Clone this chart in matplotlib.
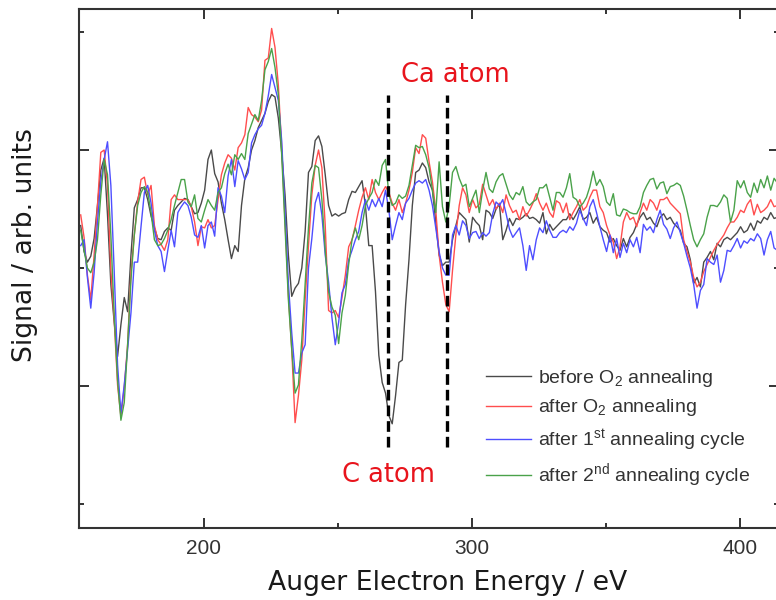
import numpy as np
import matplotlib
matplotlib.use("Agg")
import matplotlib.pyplot as plt
from matplotlib.ticker import MultipleLocator, FixedLocator, NullFormatter
from matplotlib.font_manager import FontProperties

# Auger electron energy grid (eV)
energy = np.arange(154.0, 414.01, 1.25)

# dN/dE signal, arbitrary units
before_o2 = [
    0.36, 0.14, 0.05, 0.10, 0.25, 0.53, 0.83, 0.93, 0.45, -0.14,
    -0.46, -0.75, -0.48, -0.25, -0.37, 0.11, 0.51, 0.58, 0.68, 0.68,
    0.58, 0.44, 0.34, 0.25, 0.24, 0.31, 0.34, 0.32, 0.49, 0.53,
    0.56, 0.59, 0.58, 0.52, 0.46, 0.47, 0.55, 0.66, 0.92, 1.00,
    0.80, 0.73, 0.55, 0.41, 0.24, 0.08, 0.19, 0.14, 0.53, 0.76,
    0.85, 1.00, 1.08, 1.19, 1.25, 1.31, 1.41, 1.47, 1.45, 1.27,
    0.98, 0.62, 0.11, -0.24, -0.17, -0.13, 0.00, 0.31, 0.81, 0.86,
    1.08, 1.12, 1.03, 0.79, 0.53, 0.44, 0.46, 0.44, 0.46, 0.47,
    0.58, 0.65, 0.64, 0.69, 0.74, 0.53, 0.19, 0.19, -0.20, -0.74,
    -0.97, -1.06, -1.25, -1.32, -1.08, -0.80, -0.78, -0.31, 0.07, 0.53,
    0.81, 0.83, 0.89, 0.85, 0.73, 0.66, 0.39, 0.11, 0.02, 0.05,
    0.05, 0.24, 0.36, 0.47, 0.44, 0.41, 0.22, 0.43, 0.39, 0.36,
    0.24, 0.49, 0.47, 0.42, 0.50, 0.54, 0.24, 0.32, 0.42, 0.36,
    0.42, 0.41, 0.43, 0.46, 0.42, 0.43, 0.41, 0.38, 0.47, 0.29,
    0.37, 0.32, 0.35, 0.38, 0.41, 0.41, 0.46, 0.41, 0.46, 0.52,
    0.41, 0.43, 0.47, 0.38, 0.43, 0.35, 0.32, 0.30, 0.22, 0.25,
    0.19, 0.15, 0.25, 0.18, 0.26, 0.30, 0.37, 0.43, 0.47, 0.41,
    0.43, 0.38, 0.35, 0.43, 0.46, 0.41, 0.43, 0.38, 0.35, 0.32,
    0.21, 0.18, 0.07, -0.13, -0.08, -0.16, 0.05, 0.09, 0.14, 0.07,
    0.21, 0.18, 0.24, 0.26, 0.24, 0.27, 0.30, 0.35, 0.30, 0.32,
    0.38, 0.32, 0.40, 0.38, 0.43, 0.41, 0.47, 0.42, 0.43,
]

after_o2 = [
    0.45, 0.26, -0.06, -0.27, 0.11, 0.53, 0.98, 1.00, 0.70, -0.02,
    -0.44, -0.99, -1.26, -1.01, -0.65, -0.04, 0.28, 0.56, 0.75, 0.77,
    0.62, 0.70, 0.36, 0.24, 0.20, 0.15, 0.24, 0.58, 0.62, 0.58,
    0.58, 0.58, 0.58, 0.52, 0.39, 0.19, 0.35, 0.34, 0.41, 0.34,
    0.36, 0.58, 0.79, 0.89, 0.96, 0.93, 0.83, 1.02, 1.06, 1.13,
    1.36, 1.30, 1.28, 1.24, 1.34, 1.76, 1.78, 2.03, 1.87, 1.55,
    1.02, 0.39, -0.23, -0.69, -1.31, -1.08, -0.78, -0.27, 0.19, 0.62,
    0.87, 1.00, 0.85, 0.36, -0.36, -0.38, -0.36, -0.42, -0.25, -0.06,
    0.18, 0.24, 0.36, 0.49, 0.60, 0.68, 0.58, 0.75, 0.64, 0.58,
    0.64, 0.69, 0.64, 0.55, 0.49, 0.58, 0.47, 0.55, 0.66, 0.81,
    1.02, 0.97, 1.13, 1.10, 0.90, 0.73, 0.49, 0.11, -0.12, -0.31,
    -0.37, -0.02, 0.28, 0.53, 0.68, 0.62, 0.47, 0.58, 0.51, 0.54,
    0.71, 0.62, 0.53, 0.58, 0.50, 0.55, 0.47, 0.62, 0.53, 0.47,
    0.49, 0.41, 0.52, 0.44, 0.49, 0.55, 0.63, 0.55, 0.49, 0.55,
    0.47, 0.43, 0.57, 0.55, 0.47, 0.55, 0.41, 0.47, 0.52, 0.58,
    0.49, 0.52, 0.60, 0.66, 0.66, 0.52, 0.47, 0.36, 0.28, 0.22,
    0.08, 0.18, 0.39, 0.47, 0.41, 0.43, 0.35, 0.47, 0.55, 0.49,
    0.58, 0.55, 0.49, 0.58, 0.58, 0.60, 0.55, 0.52, 0.49, 0.46,
    0.24, 0.14, 0.05, -0.08, -0.16, -0.12, -0.03, 0.03, 0.09, 0.15,
    0.20, 0.24, 0.28, 0.34, 0.39, 0.39, 0.43, 0.49, 0.47, 0.54,
    0.58, 0.45, 0.54, 0.47, 0.49, 0.52, 0.58, 0.52, 0.53,
]

after_cycle1 = [
    0.19, 0.24, -0.08, -0.34, -0.04, 0.39, 0.73, 0.92, 1.07, 0.70,
    -0.03, -0.82, -1.23, -0.99, -0.69, -0.38, 0.05, 0.05, 0.35, 0.64,
    0.70, 0.55, 0.32, 0.19, 0.14, -0.03, 0.15, 0.32, 0.18, 0.47,
    0.52, 0.56, 0.53, 0.43, 0.28, 0.26, 0.36, 0.17, 0.36, 0.39,
    0.27, 0.68, 0.61, 0.47, 0.78, 0.92, 0.69, 0.91, 0.84, 0.75,
    0.81, 1.06, 1.13, 1.18, 1.21, 1.31, 1.46, 1.64, 1.53, 1.42,
    1.08, 0.47, -0.13, -0.55, -0.89, -0.89, -0.72, -0.65, 0.00, 0.25,
    0.55, 0.64, 0.45, 0.11, -0.12, -0.42, -0.65, -0.46, -0.21, -0.14,
    0.07, 0.15, 0.24, 0.31, 0.47, 0.58, 0.49, 0.58, 0.52, 0.59,
    0.52, 0.66, 0.49, 0.24, 0.36, 0.47, 0.41, 0.55, 0.59, 0.66,
    0.72, 0.74, 0.72, 0.75, 0.66, 0.53, 0.34, 0.14, 0.00, -0.06,
    -0.06, 0.28, 0.36, 0.28, 0.40, 0.36, 0.25, 0.30, 0.31, 0.25,
    0.30, 0.27, 0.30, 0.46, 0.56, 0.53, 0.58, 0.46, 0.33, 0.26,
    0.30, 0.34, 0.19, -0.02, 0.19, 0.07, 0.24, 0.34, 0.30, 0.40,
    0.32, 0.26, 0.26, 0.30, 0.32, 0.30, 0.35, 0.32, 0.38, 0.49,
    0.42, 0.36, 0.52, 0.58, 0.47, 0.35, 0.24, 0.14, 0.28, 0.13,
    0.25, 0.09, 0.21, 0.13, 0.24, 0.18, 0.26, 0.13, 0.37, 0.32,
    0.35, 0.30, 0.41, 0.49, 0.37, 0.33, 0.25, 0.34, 0.39, 0.30,
    0.21, 0.10, 0.00, -0.14, -0.34, -0.19, -0.14, 0.08, 0.05, 0.03,
    0.11, -0.12, -0.02, 0.15, 0.14, 0.19, 0.25, 0.17, 0.23, 0.21,
    0.25, 0.23, 0.29, 0.25, 0.11, 0.24, 0.31, 0.17, 0.15,
]

after_cycle2 = [
    0.32, 0.15, 0.00, -0.04, 0.05, 0.24, 0.62, 0.92, 0.79, 0.28,
    -0.40, -0.95, -1.29, -1.14, -0.65, -0.10, 0.28, 0.53, 0.64, 0.69,
    0.64, 0.47, 0.24, 0.19, 0.20, 0.25, 0.32, 0.41, 0.53, 0.64,
    0.75, 0.75, 0.56, 0.52, 0.62, 0.42, 0.39, 0.49, 0.58, 0.53,
    0.49, 0.64, 0.68, 0.80, 0.88, 0.79, 0.96, 0.92, 0.97, 0.92,
    1.14, 1.22, 1.30, 1.25, 1.42, 1.68, 1.75, 1.86, 1.70, 1.47,
    0.96, 0.34, -0.27, -0.69, -1.06, -0.99, -0.61, -0.14, 0.34, 0.72,
    0.87, 0.85, 0.58, 0.15, -0.20, -0.33, -0.40, -0.64, -0.38, -0.23,
    0.03, 0.24, 0.34, 0.24, 0.36, 0.53, 0.59, 0.64, 0.75, 0.70,
    0.87, 0.92, 0.62, 0.53, 0.55, 0.62, 0.59, 0.61, 0.70, 0.87,
    1.04, 1.02, 1.03, 0.96, 0.85, 0.66, 0.47, 0.90, 0.52, 0.39,
    0.53, 0.81, 0.86, 0.76, 0.69, 0.71, 0.52, 0.59, 0.66, 0.47,
    0.66, 0.81, 0.67, 0.64, 0.73, 0.78, 0.80, 0.71, 0.62, 0.58,
    0.64, 0.62, 0.69, 0.56, 0.53, 0.56, 0.58, 0.68, 0.68, 0.71,
    0.60, 0.49, 0.64, 0.64, 0.60, 0.68, 0.80, 0.60, 0.58, 0.52,
    0.55, 0.60, 0.69, 0.82, 0.70, 0.75, 0.69, 0.56, 0.53, 0.63,
    0.45, 0.44, 0.50, 0.49, 0.47, 0.46, 0.46, 0.52, 0.64, 0.70,
    0.75, 0.76, 0.67, 0.72, 0.73, 0.63, 0.69, 0.70, 0.72, 0.70,
    0.61, 0.49, 0.36, 0.24, 0.18, 0.24, 0.29, 0.43, 0.53, 0.53,
    0.52, 0.56, 0.62, 0.59, 0.39, 0.49, 0.74, 0.68, 0.74, 0.64,
    0.60, 0.72, 0.64, 0.75, 0.68, 0.78, 0.66, 0.76, 0.72,
]

series = [before_o2, after_o2, after_cycle1, after_cycle2]
series_labels = [
    r"before O$_2$ annealing",
    r"after O$_2$ annealing",
    r"after 1$^{\mathrm{st}}$ annealing cycle",
    r"after 2$^{\mathrm{nd}}$ annealing cycle",
]
series_colors = ["#4a4a4a", "#ff4e4e", "#4e4eff", "#4aa24a"]

# energies of the marked Auger transitions (eV)
marker_energies = [268.8, 290.8]

plt.rcParams["mathtext.fontset"] = "custom"
plt.rcParams["mathtext.rm"] = "Liberation Sans"
plt.rcParams["mathtext.it"] = "Liberation Sans:italic"
plt.rcParams["mathtext.bf"] = "Liberation Sans:bold"

fig = plt.figure(figsize=(7.76, 6.00), dpi=100)
ax = fig.add_axes([79 / 776, 72 / 600, 699.5 / 776, 519 / 600])

for vals, lab, col in zip(series, series_labels, series_colors):
    ax.plot(energy, vals, color=col, lw=1.0, label=lab)

for e in marker_energies:
    ax.plot([e, e], [-1.52, 1.47], color="black", lw=2.4,
            dashes=(3.2, 1.5), solid_capstyle="butt", dash_capstyle="butt")

ax.set_xlim(153.36, 414.4)
ax.set_ylim(-2.203, 2.195)

ax.xaxis.set_major_locator(MultipleLocator(100))
ax.xaxis.set_minor_locator(MultipleLocator(50))
ax.yaxis.set_major_locator(FixedLocator([-1, 1]))
ax.yaxis.set_minor_locator(FixedLocator([-2, 0, 2]))
ax.yaxis.set_major_formatter(NullFormatter())

axis_color = "#333333"
for sp in ax.spines.values():
    sp.set_linewidth(1.5)
    sp.set_color(axis_color)
ax.tick_params(which="both", direction="in", top=True, right=True,
               color=axis_color, width=1.4)
ax.tick_params(which="major", length=7.2, pad=8)
ax.tick_params(which="minor", length=3.6)
tick_font = FontProperties(family="Liberation Sans", size=15)
for lbl in ax.get_xticklabels():
    lbl.set_fontproperties(tick_font)
    lbl.set_color(axis_color)

label_font = dict(family="DejaVu Sans", size=19.2, color="#1a1a1a")
ax.set_xlabel("Auger Electron Energy / eV", **label_font)
ax.set_ylabel("Signal / arb. units", **label_font)
ax.xaxis.set_label_coords(0.527, -0.081)
ax.yaxis.set_label_coords(-0.058, 0.545)

note_style = dict(family="DejaVu Sans", size=18.5, color="#e8141c",
                  ha="center", va="baseline")
ax.text(294.0, 1.576, "Ca atom", **note_style)
ax.text(268.7, -1.81, "C atom", **note_style)

leg = ax.legend(loc="upper left", bbox_to_anchor=(0.582, 0.309),
                frameon=False, borderpad=0, borderaxespad=0,
                handlelength=2.3, handletextpad=0.35, labelspacing=0.45,
                prop=FontProperties(family="Liberation Sans", size=14))
for t in leg.get_texts():
    t.set_color(axis_color)

fig.savefig("out.png", dpi=100)
